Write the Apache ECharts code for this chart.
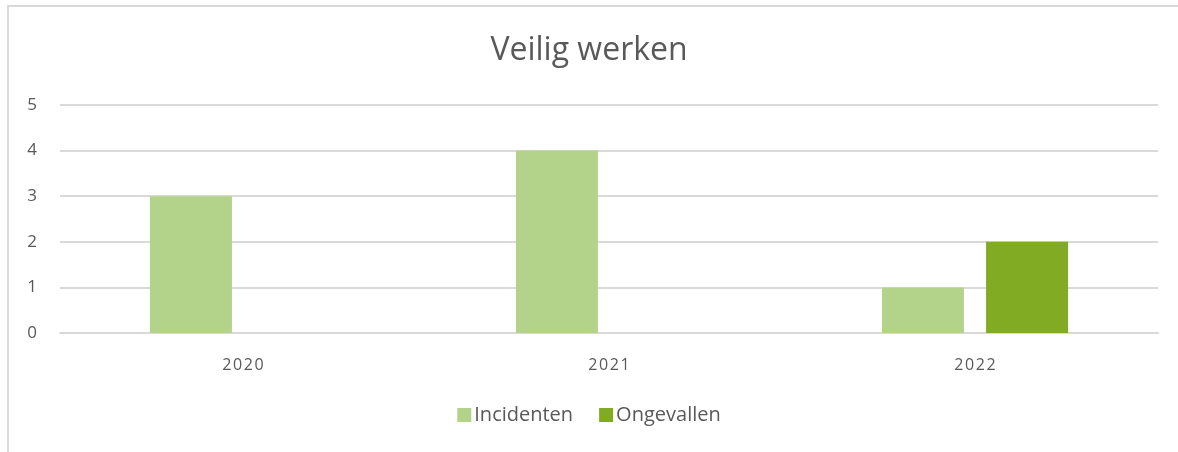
<!DOCTYPE html>
<html>
<head>
<meta charset="utf-8">
<script src="https://cdn.jsdelivr.net/npm/echarts@6/dist/echarts.min.js"></script>
<style>
	html, body { margin: 0; padding: 0; background: #fff; overflow: hidden; }
	#chart { width: 1178px; height: 452px; }
	#frame { position: absolute; left: 7px; top: 5px; width: 1300px; height: 600px;
		border-top: 2px solid #d9d9d9; border-left: 2px solid #d9d9d9; pointer-events: none; }
</style>
</head>
<body>
<div id="chart"></div>
<div id="frame"></div>
<script>
var years = ['2020', '2021', '2022'];
var incidenten = [3, 4, 1];
var ongevallen = [0, 0, 2];
var yTicks = [0, 1, 2, 3, 4, 5];

var font = '"Open Sans", "Noto Sans", sans-serif';
var textColor = '#595959';

var myChart = echarts.init(document.getElementById('chart'));
var option = {
	animation: false,
	title: {
		text: 'Veilig werken',
		left: 'center',
		top: 30,
		textStyle: { fontFamily: font, fontSize: 32, fontWeight: 'normal', color: textColor }
	},
	legend: {
		bottom: 22,
		left: 'center',
		itemWidth: 14,
		itemHeight: 14,
		itemGap: 26,
		icon: 'rect',
		data: ['Incidenten', 'Ongevallen'],
		textStyle: { fontFamily: font, fontSize: 20, color: textColor, padding: [0, 0, 0, -2] }
	},
	grid: { left: 60, right: 20, top: 105, bottom: 119 },
	xAxis: {
		type: 'category',
		data: years,
		axisLine: { show: true, lineStyle: { color: '#d9d9d9', width: 2 } },
		axisTick: { show: false },
		axisLabel: { fontFamily: font, fontSize: 16, color: textColor, margin: 24,
			formatter: function (v) { return v.split('').join('\u200a'); } }
	},
	yAxis: {
		type: 'value',
		min: yTicks[0],
		max: yTicks[yTicks.length - 1],
		interval: 1,
		axisLine: { show: false },
		axisTick: { show: false },
		splitLine: { lineStyle: { color: '#d9d9d9', width: 2 } },
		axisLabel: { fontFamily: font, fontSize: 17, color: textColor, margin: 23 }
	},
	series: [{
		name: 'Incidenten',
		type: 'bar',
		data: incidenten,
		barWidth: 82,
		barGap: '27%',
		itemStyle: { color: '#b3d38b' }
	}, {
		name: 'Ongevallen',
		type: 'bar',
		data: ongevallen,
		barWidth: 82,
		itemStyle: { color: '#80ab23' }
	}]
};
myChart.setOption(option);
</script>
</body>
</html>
